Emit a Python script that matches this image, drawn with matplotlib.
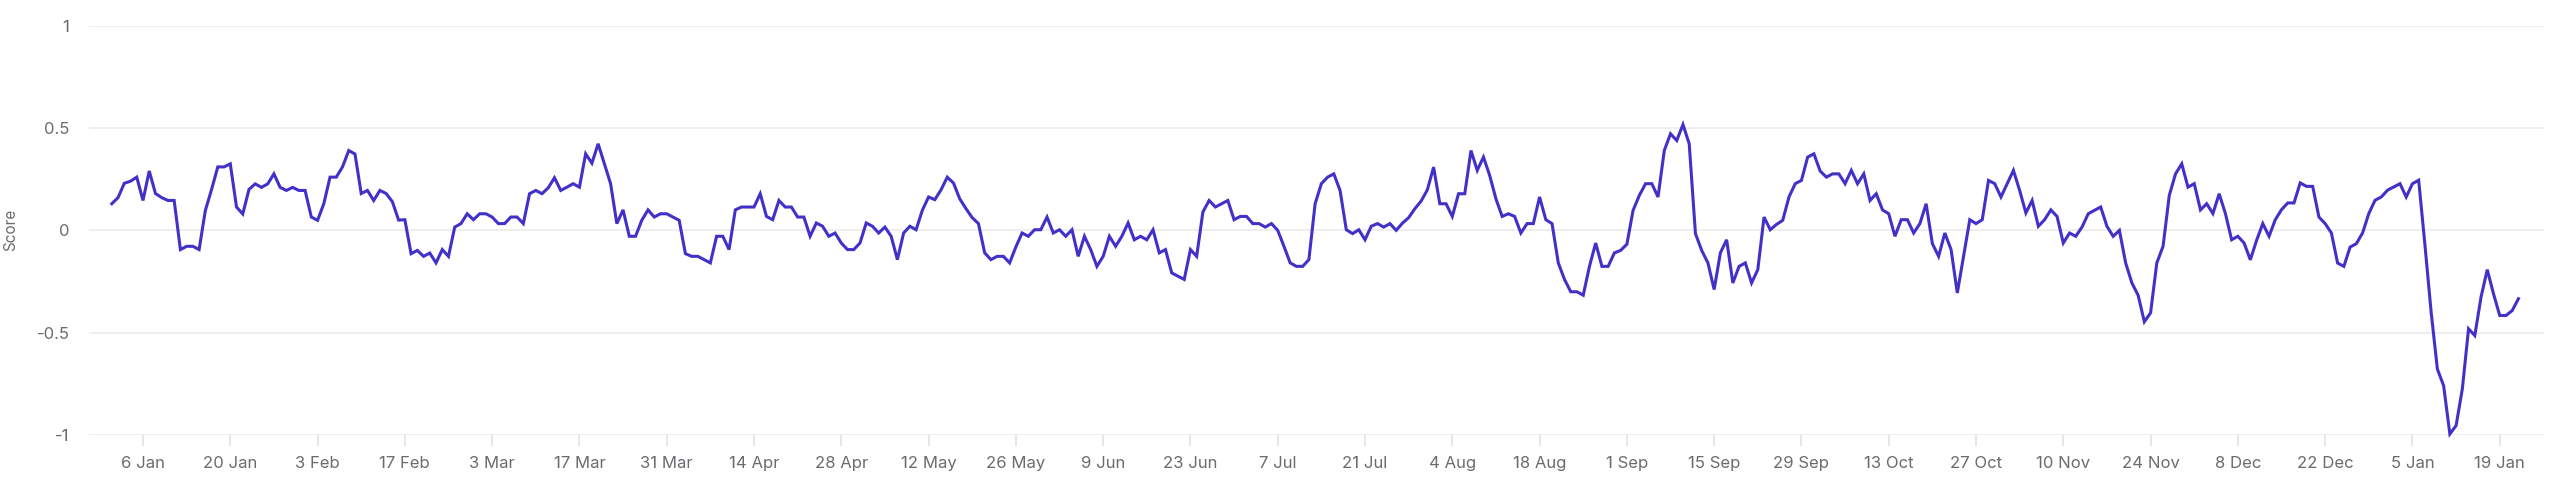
import matplotlib
matplotlib.use("Agg")
import matplotlib.pyplot as plt
import matplotlib.dates as mdates
import pandas as pd
import numpy as np

# ---- data: daily score, 1 Jan 2019 .. 22 Jan 2020 ----
jan_2019 = [0.13, 0.16, 0.23, 0.24, 0.26, 0.146, 0.29, 0.18, 0.16, 0.146, 0.146,
            -0.094, -0.078, -0.078, -0.094, 0.097, 0.20, 0.31, 0.31, 0.325, 0.114,
            0.08, 0.20, 0.227, 0.21, 0.227, 0.276, 0.21, 0.195, 0.21, 0.195]
feb_2019 = [0.195, 0.065, 0.049, 0.13, 0.26, 0.26, 0.31, 0.39, 0.373, 0.18, 0.195,
            0.146, 0.195, 0.18, 0.14, 0.05, 0.052, -0.114, -0.098, -0.127, -0.111,
            -0.159, -0.094, -0.127, 0.016, 0.033, 0.081, 0.052]
mar_2019 = [0.081, 0.081, 0.065, 0.033, 0.033, 0.065, 0.065, 0.033, 0.179, 0.195,
            0.179, 0.208, 0.257, 0.195, 0.211, 0.228, 0.211, 0.374, 0.328, 0.423,
            0.325, 0.228, 0.033, 0.10, -0.029, -0.029, 0.049, 0.10, 0.065, 0.081, 0.081]
apr_2019 = [0.065, 0.049, -0.114, -0.127, -0.127, -0.143, -0.159, -0.029, -0.029,
            -0.094, 0.10, 0.114, 0.114, 0.114, 0.179, 0.068, 0.052, 0.146, 0.114,
            0.114, 0.065, 0.065, -0.029, 0.036, 0.02, -0.029, -0.013, -0.062, -0.094, -0.094]
may_2019 = [-0.062, 0.036, 0.02, -0.013, 0.016, -0.029, -0.143, -0.013, 0.02, 0.003,
            0.098, 0.163, 0.15, 0.198, 0.26, 0.231, 0.154, 0.106, 0.062, 0.033, -0.11,
            -0.143, -0.127, -0.127, -0.159, -0.081, -0.013, -0.029, 0.003, 0.003, 0.065]
jun_2019 = [-0.013, 0.003, -0.029, 0.003, -0.127, -0.029, -0.094, -0.176, -0.127,
            -0.029, -0.078, -0.029, 0.036, -0.046, -0.029, -0.046, 0.003, -0.11, -0.094,
            -0.208, -0.224, -0.24, -0.094, -0.127, 0.09, 0.146, 0.114, 0.13, 0.146, 0.052]
jul_2019 = [0.068, 0.068, 0.033, 0.033, 0.016, 0.033, 0.0, -0.078, -0.159, -0.176,
            -0.176, -0.143, 0.13, 0.228, 0.26, 0.276, 0.195, 0.003, -0.016, 0.003,
            -0.046, 0.02, 0.033, 0.016, 0.033, 0.0, 0.035, 0.062, 0.106, 0.143, 0.198]
aug_2019 = [0.309, 0.13, 0.13, 0.068, 0.179, 0.179, 0.39, 0.293, 0.358, 0.268, 0.154,
            0.068, 0.081, 0.068, -0.013, 0.033, 0.033, 0.163, 0.052, 0.033, -0.159,
            -0.24, -0.30, -0.30, -0.317, -0.176, -0.062, -0.176, -0.176, -0.11, -0.098]
sep_2019 = [-0.068, 0.098, 0.171, 0.228, 0.228, 0.163, 0.39, 0.472, 0.439, 0.517,
            0.423, -0.016, -0.098, -0.159, -0.289, -0.11, -0.046, -0.257, -0.176,
            -0.159, -0.257, -0.192, 0.065, 0.003, 0.029, 0.049, 0.163, 0.228, 0.244, 0.358]
oct_2019 = [0.374, 0.29, 0.26, 0.276, 0.276, 0.228, 0.293, 0.228, 0.276, 0.146, 0.179,
            0.10, 0.081, -0.029, 0.052, 0.052, -0.013, 0.033, 0.13, -0.065, -0.127,
            -0.013, -0.094, -0.306, -0.127, 0.052, 0.033, 0.052, 0.244, 0.228, 0.163]
nov_2019 = [0.228, 0.293, 0.195, 0.085, 0.146, 0.02, 0.052, 0.10, 0.068, -0.062,
            -0.013, -0.029, 0.016, 0.081, 0.098, 0.114, 0.02, -0.029, 0.0, -0.159,
            -0.257, -0.317, -0.447, -0.403, -0.159, -0.078, 0.171, 0.276, 0.325, 0.211]
dec_2019 = [0.228, 0.10, 0.13, 0.082, 0.179, 0.082, -0.046, -0.029, -0.062, -0.144,
            -0.049, 0.033, -0.029, 0.052, 0.101, 0.134, 0.134, 0.232, 0.215, 0.215,
            0.065, 0.033, -0.013, -0.16, -0.176, -0.082, -0.065, -0.013, 0.082, 0.147, 0.163]
jan_2020 = [0.196, 0.212, 0.228, 0.163, 0.228, 0.245, -0.07, -0.40, -0.678, -0.759,
            -0.995, -0.954, -0.775, -0.481, -0.514, -0.326, -0.192, -0.31, -0.416,
            -0.416, -0.392, -0.334]

start_date = "2019-01-01"
first_tick = "2019-01-06"
tick_labels = ["6 Jan", "20 Jan", "3 Feb", "17 Feb", "3 Mar", "17 Mar", "31 Mar",
               "14 Apr", "28 Apr", "12 May", "26 May", "9 Jun", "23 Jun", "7 Jul",
               "21 Jul", "4 Aug", "18 Aug", "1 Sep", "15 Sep", "29 Sep", "13 Oct",
               "27 Oct", "10 Nov", "24 Nov", "8 Dec", "22 Dec", "5 Jan", "19 Jan"]
y_ticks = [-1, -0.5, 0, 0.5, 1]
y_tick_labels = ["-1", "-0.5", "0", "0.5", "1"]
y_title = "Score"

scores = (jan_2019 + feb_2019 + mar_2019 + apr_2019 + may_2019 + jun_2019 + jul_2019
          + aug_2019 + sep_2019 + oct_2019 + nov_2019 + dec_2019 + jan_2020)
dates = pd.date_range(start_date, periods=len(scores), freq="D")
tick_dates = pd.date_range(first_tick, periods=len(tick_labels), freq="14D")

# ---- style ----
plt.rcParams["font.family"] = ["Inter", "DejaVu Sans"]
LINE = "#4231C9"
GRID = "#EBEBEB"
TEXT = "#6B6B70"

fig = plt.figure(figsize=(25.6, 5.04), dpi=100)
ax = fig.add_axes([89 / 2560, 1 - 435 / 504, (2544 - 89) / 2560, (435 - 25.7) / 504])

ax.plot(dates, scores, color=LINE, linewidth=2.2, solid_joinstyle="miter",
        clip_on=False, zorder=3)

d0 = mdates.date2num(pd.Timestamp(start_date))
ax.set_xlim(d0 - 3.66, d0 + 390.1)
ax.set_ylim(-1, 1)

ax.set_yticks(y_ticks)
ax.set_yticklabels(y_tick_labels)
ax.yaxis.grid(True, color=GRID, linewidth=1.2)
ax.set_axisbelow(True)
ax.tick_params(axis="y", length=0, pad=14, labelsize=12, labelcolor=TEXT)

ax.set_xticks(tick_dates)
ax.set_xticklabels(tick_labels)
ax.tick_params(axis="x", length=8, width=1.2, color="#E2E2E2", pad=7,
               labelsize=12, labelcolor=TEXT)

for s in ax.spines.values():
    s.set_visible(False)

ax.set_ylabel(y_title, fontsize=11, color=TEXT)
ax.yaxis.set_label_coords(-0.029, 0.5)

fig.savefig("out.png", dpi=100, facecolor="white")
